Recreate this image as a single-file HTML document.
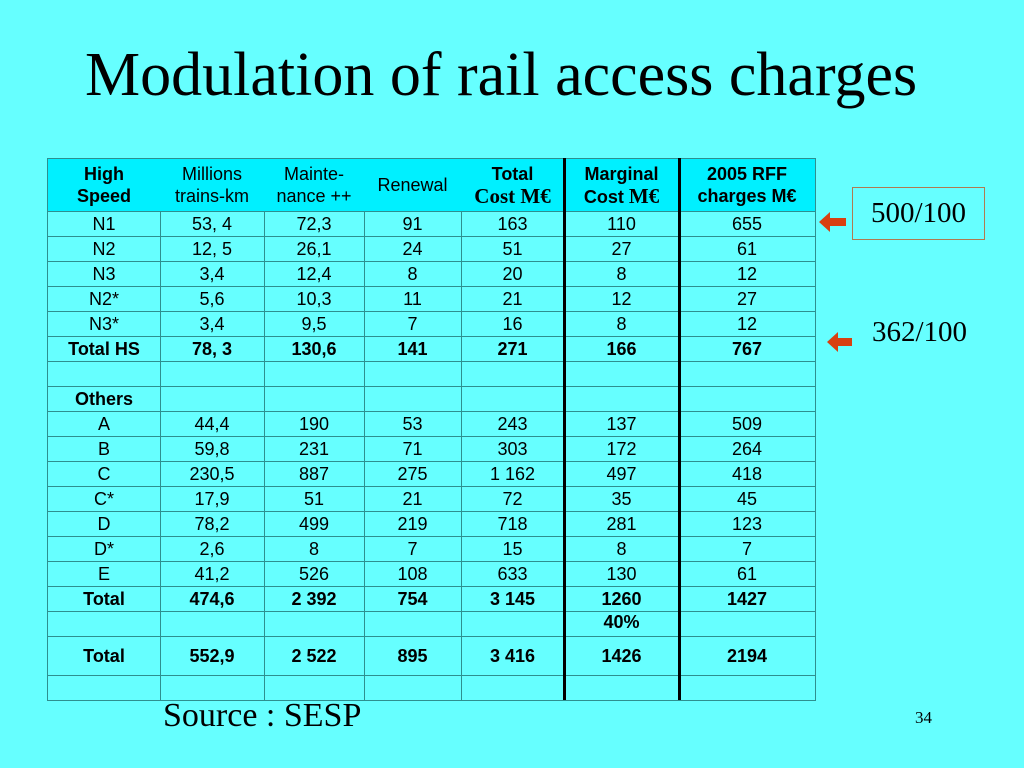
<!DOCTYPE html>
<html><head><meta charset="utf-8">
<style>
body{margin:0;width:1024px;height:768px;background:#66ffff;position:relative;overflow:hidden;font-family:"Liberation Sans",sans-serif;}
#title{position:absolute;left:85px;top:40px;white-space:nowrap;font-family:"Liberation Serif",serif;font-size:62px;line-height:70px;color:#000;}
.c{position:absolute;box-sizing:border-box;border-right:1px solid #2e8f8f;border-bottom:1px solid #2e8f8f;display:flex;align-items:center;justify-content:center;text-align:center;font-size:18px;color:#000;line-height:22px;}
.h{background:#00f0ff;}
.b{font-weight:bold;}
.thick{position:absolute;top:158px;height:542px;width:3px;background:#000;}
.ser{font-family:"Liberation Serif",serif;font-size:21px;}
</style></head><body>
<div id="title">Modulation of rail access charges</div>
<div id="table"></div>
<div style="position:absolute;left:852px;top:187px;width:133px;height:53px;box-sizing:border-box;border:1px solid #b07a50;font-family:'Liberation Serif',serif;font-size:29px;display:flex;align-items:center;justify-content:center;">500/100</div>
<div style="position:absolute;left:872px;top:316px;font-family:'Liberation Serif',serif;font-size:29px;">362/100</div>
<svg style="position:absolute;left:0;top:0" width="1024" height="768">
<polygon points="819,222 830,212 830,218 846,218 846,226 830,226 830,232" fill="#d84010"/>
<polygon points="827,342 838,332 838,338 852,338 852,346 838,346 838,352" fill="#d84010"/>
</svg>
<div style="position:absolute;left:163px;top:696px;font-family:'Liberation Serif',serif;font-size:34px;line-height:40px;">Source : SESP</div>
<div style="position:absolute;left:915px;top:708px;font-family:'Liberation Serif',serif;font-size:17px;">34</div>
<script>
const cols=[47,160,264,364,461,564,679,815];
const rowsY=[158,211,236,261,286,311,336,361,386,411,436,461,486,511,536,561,586,611,636,675,700];
const header=['<b>High<br>Speed</b>','Millions<br>trains-km','Mainte-<br>nance ++','Renewal','<b>Total<br><span class="ser">Cost M€</span></b>','<b>Marginal<br>Cost <span class="ser">M€</span></b>','<b>2005 RFF<br>charges M€</b>'];
const rows=[
['N1','53, 4','72,3','91','163','110','655'],
['N2','12, 5','26,1','24','51','27','61'],
['N3','3,4','12,4','8','20','8','12'],
['N2*','5,6','10,3','11','21','12','27'],
['N3*','3,4','9,5','7','16','8','12'],
['Total HS','78, 3','130,6','141','271','166','767'],
['','','','','','',''],
['Others','','','','','',''],
['A','44,4','190','53','243','137','509'],
['B','59,8','231','71','303','172','264'],
['C','230,5','887','275','1 162','497','418'],
['C*','17,9','51','21','72','35','45'],
['D','78,2','499','219','718','281','123'],
['D*','2,6','8','7','15','8','7'],
['E','41,2','526','108','633','130','61'],
['Total','474,6','2 392','754','3 145','1260','1427'],
['','','','','','40%',''],
['Total','552,9','2 522','895','3 416','1426','2194'],
['','','','','','','']];
const boldRows=[5,7,15,16,17];
const t=document.getElementById('table');
const all=[header].concat(rows);
all.forEach((r,ri)=>{
 r.forEach((v,ci)=>{
  const d=document.createElement('div');
  
  
  d.className='c'+(ri===0?' h':'')+(boldRows.includes(ri-1)?' b':'');
  d.style.left=cols[ci]+'px';d.style.width=(cols[ci+1]-cols[ci]+1)+'px';
  d.style.top=rowsY[ri]+'px';d.style.height=(rowsY[ri+1]-rowsY[ri]+1)+'px';
  if(ci===0)d.style.borderLeft='1px solid #2e8f8f';
  if(ri===0)d.style.borderTop='1px solid #2e8f8f';
  if(ri===17&&ci===5){d.style.alignItems='flex-start';}
  d.innerHTML=v;
  t.appendChild(d);
 });
});
[563,678].forEach(x=>{
 const l=document.createElement('div');
 
 
 l.className='thick';l.style.left=x+'px';document.body.appendChild(l);
});
</script>
</body></html>
